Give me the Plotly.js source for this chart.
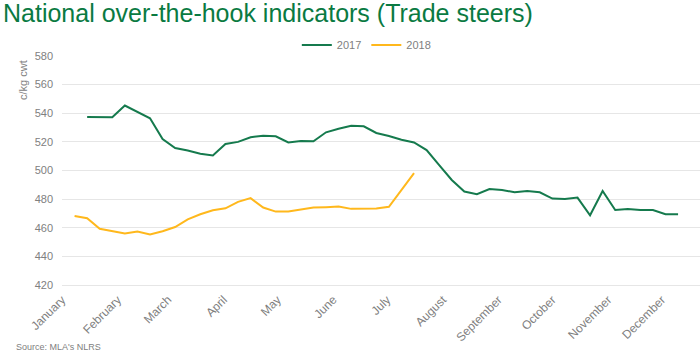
<!DOCTYPE html>
<html>
<head>
<meta charset="utf-8">
<script src="https://cdn.plot.ly/plotly-3.0.1.min.js"></script>
<style>html,body{margin:0;padding:0;background:#fff}#chart{width:700px;height:357px}</style>
</head>
<body>
<div id="chart"></div>
<script>
// Both years are drawn on one Jan–Dec axis (common plotting year)
const AXIS_YEAR = '2017';

// Weekly observation dates (month-day)
const weeks2017 = ['01-15','01-22','01-29','02-05','02-12','02-19','02-26','03-05','03-12','03-19','03-26',
  '04-02','04-09','04-16','04-23','04-30','05-07','05-14','05-21','05-28','06-04','06-11','06-18','06-25',
  '07-02','07-09','07-16','07-23','07-30','08-06','08-13','08-20','08-27','09-03','09-10','09-17','09-24',
  '10-01','10-08','10-15','10-22','10-29','11-05','11-12','11-19','11-26','12-03','12-10'];
const values2017 = [537.4,537.3,537.2,545.4,541,536.5,522,515.7,514,511.7,510.5,
  518.5,520,523.2,524.3,523.9,519.6,520.6,520.4,526.7,529.2,531.3,530.9,526.2,
  524.1,521.5,519.6,514.3,503.7,493.4,485.3,483.4,487.1,486.4,484.8,485.7,484.8,
  480.4,480.1,481.1,468.7,485.7,472.4,473.1,472.4,472.4,469.4,469.4];

const weeks2018 = ['01-08','01-15','01-22','01-29','02-05','02-12','02-19','02-26','03-05','03-12','03-19','03-26',
  '04-02','04-09','04-16','04-23','04-30','05-07','05-14','05-21','05-28','06-04','06-11','06-18','06-25',
  '07-02','07-09','07-16'];
const values2018 = [468.2,466.6,459.3,457.4,456,457.4,455.3,457.6,460.5,465.9,469.4,472.2,
  473.6,478.1,480.7,474.1,471.3,471.3,472.7,474.1,474.4,474.8,473.2,473.4,473.4,
  474.6,486,498.1];

const seriesNames = ['2017','2018'];
const seriesColors = ['#157a4d','#ffb81c'];

const titleText = 'National over-the-hook indicators (Trade steers)';
const yTitleText = 'c/kg cwt';
const sourceText = "Source: MLA's NLRS";

const toDate = d => AXIS_YEAR + '-' + d;

const traces = [
  {x: weeks2017.map(toDate), y: values2017, name: seriesNames[0], type: 'scatter', mode: 'lines',
   line: {color: seriesColors[0], width: 2}},
  {x: weeks2018.map(toDate), y: values2018, name: seriesNames[1], type: 'scatter', mode: 'lines',
   line: {color: seriesColors[1], width: 2}}
];

const gray = '#808080';
const layout = {
  width: 700, height: 357,
  margin: {l: 62, r: 0, t: 56, b: 72, pad: 0},
  paper_bgcolor: '#fff', plot_bgcolor: '#fff',
  font: {family: 'Liberation Sans, Arial, sans-serif', color: gray, size: 11},
  title: {text: titleText, x: 3/700, xref: 'container', xanchor: 'left',
          y: 1 - 13/357, yref: 'container', yanchor: 'middle',
          font: {family: 'Liberation Sans, Arial, sans-serif', size: 25, color: '#0a7a42'}},
  showlegend: true,
  legend: {orientation: 'h', x: 0.477, xanchor: 'center', y: 1.048, yanchor: 'middle',
           font: {size: 11, color: gray}, bgcolor: 'rgba(0,0,0,0)', itemwidth: 30, tracegroupgap: 0},
  xaxis: {type: 'date', range: [AXIS_YEAR + '-01-01', AXIS_YEAR + '-12-22 05:00'],
          tick0: AXIS_YEAR + '-01-01', dtick: 'M1', tickformat: '%B', tickangle: -45,
          showgrid: false, zeroline: false, showline: true, linecolor: '#e6e6e6', linewidth: 1,
          ticks: '', ticklabelstandoff: 2, tickfont: {size: 12, color: gray}, fixedrange: true},
  yaxis: {range: [420, 580], dtick: 20, tick0: 420, showgrid: true, gridcolor: '#e6e6e6', gridwidth: 1,
          zeroline: false, showline: false, ticks: '', ticklabelstandoff: 8,
          tickfont: {size: 11, color: gray}, fixedrange: true},
  annotations: [
    {text: yTitleText, xref: 'paper', yref: 'paper', x: (23-62)/638, y: (285-80)/229,
     xanchor: 'center', yanchor: 'middle', textangle: -90, showarrow: false,
     font: {size: 11, color: gray}},
    {text: sourceText, xref: 'paper', yref: 'paper', x: (14-62)/638, y: (285-346.5)/229,
     xanchor: 'left', yanchor: 'middle', showarrow: false,
     font: {family: 'Liberation Sans Narrow, Arial Narrow, Liberation Sans, Arial, sans-serif', size: 9, color: gray}}
  ]
};

Plotly.newPlot('chart', traces, layout, {displayModeBar: false, staticPlot: true});
</script>
</body>
</html>
